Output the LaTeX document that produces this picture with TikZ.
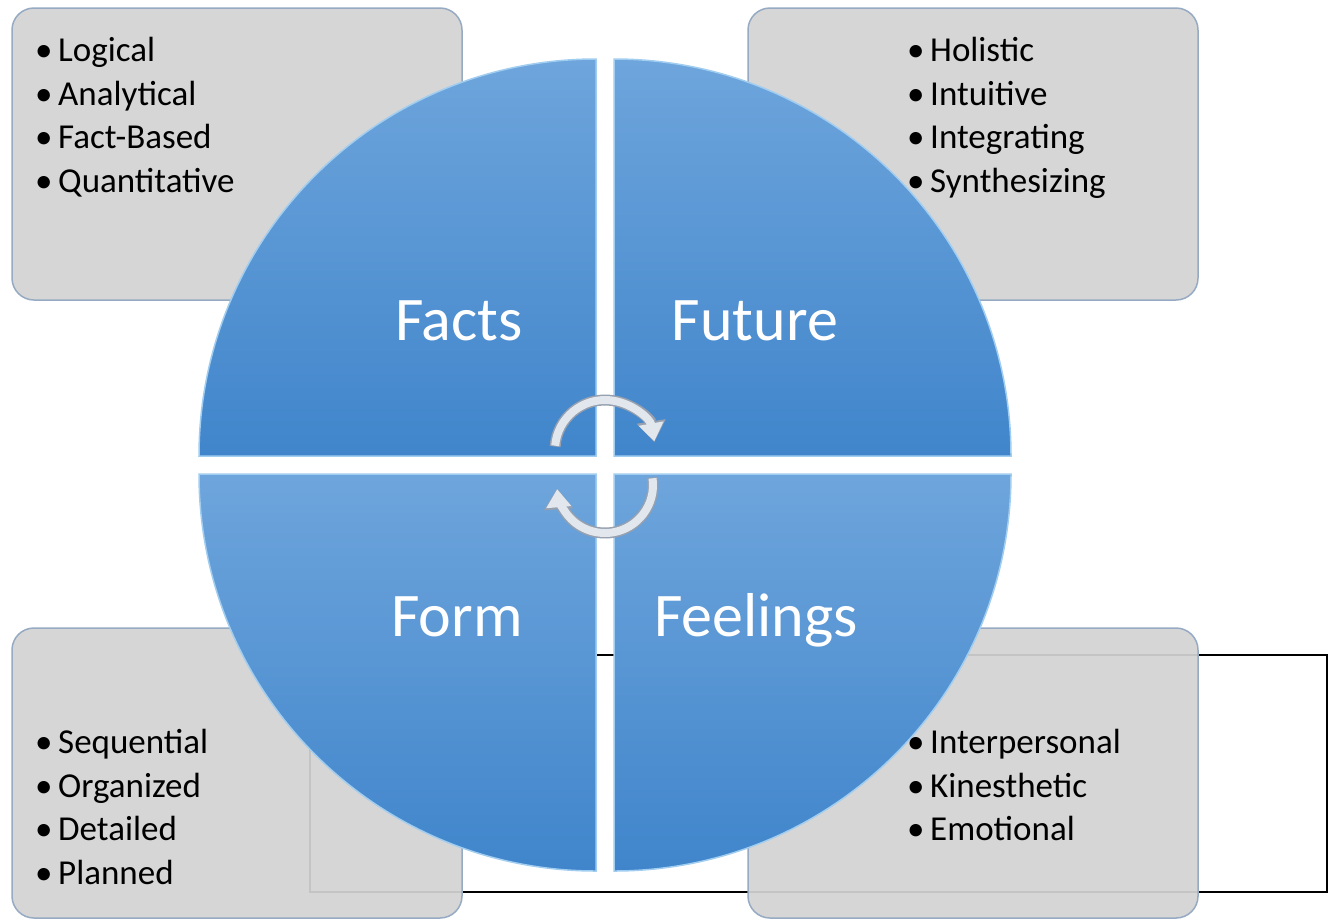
\documentclass[tikz,border=0pt]{standalone}
\usepackage{fontspec}
\setmainfont{Carlito}
\usetikzlibrary{arrows.meta}

\definecolor{boxgray}{RGB}{211,211,211}
\definecolor{boxedge}{RGB}{150,170,195}
\definecolor{quadtop}{RGB}{110,165,220}
\definecolor{quadbot}{RGB}{64,133,203}
\definecolor{quadrim}{RGB}{160,205,240}
\definecolor{cyclegray}{RGB}{226,231,238}
\definecolor{cycleedge}{RGB}{150,160,175}

\begin{document}
\begin{tikzpicture}[x=1pt,y=-1pt,
    infobox/.style={draw=boxedge,line width=1.5pt,fill=boxgray,fill opacity=0.93,rounded corners=22pt},
    quarter/.style={top color=quadtop,bottom color=quadbot,draw=quadrim,line width=1.5pt},
    bigword/.style={text=white,font=\fontsize{62}{66}\selectfont,inner sep=0pt,anchor=base},
    listitem/.style={font=\fontsize{35}{42}\selectfont,inner sep=0pt,anchor=base west},
    cycleshadow/.style={draw=cycleedge,line width=11pt,-{Triangle[length=21pt,width=28pt]}},
    cyclearrow/.style={draw=cyclegray,line width=8pt,-{Triangle[length=18pt,width=24pt]}}]
    \useasboundingbox (0,0) rectangle (1337,922);
    \fill[white] (0,0) rectangle (1337,922);
    % outline behind the lower boxes
    \draw[line width=2pt] (310,655) rectangle (1327,892);
    % grey boxes
    \draw[infobox] (12,8) rectangle (462,300);
    \draw[infobox] (748,8) rectangle (1198,300);
    \draw[infobox] (12,628) rectangle (462,918);
    \draw[infobox] (748,628) rectangle (1198,918);
    % four quarters
    \draw[quarter] (596,456) -- (199,456) arc[start angle=180,end angle=270,radius=397] -- cycle;
    \draw[quarter] (614,456) -- (614,59) arc[start angle=270,end angle=360,radius=397] -- cycle;
    \draw[quarter] (614,474) -- (1011,474) arc[start angle=0,end angle=90,radius=397] -- cycle;
    \draw[quarter] (596,474) -- (596,871) arc[start angle=90,end angle=180,radius=397] -- cycle;
    \node[bigword] (facts) at (459,340) {Facts};
    \node[bigword] (future) at (755,340) {Future};
    \node[bigword] (form) at (457,636) {Form};
    \node[bigword] (feelings) at (756,636) {Feelings};
    % cycle arrows
    \draw[cycleshadow] (605,450) ++(184:50) arc[start angle=184,end angle=351,radius=50];
    \draw[cyclearrow] (605,450) ++(185:50) arc[start angle=185,end angle=350,radius=50];
    \draw[cycleshadow] (605,485) ++(-9:48) arc[start angle=-9,end angle=176,radius=48];
    \draw[cyclearrow] (605,485) ++(-8:48) arc[start angle=-8,end angle=175,radius=48];
    % lists
    \foreach \word [count=\i] in {Logical,Analytical,Fact-Based,Quantitative}
        \node[listitem] (facts\i) at (35,{61.5+43.6*(\i-1)}) {\makebox[23pt][l]{\textbullet}\word};
    \foreach \word [count=\i] in {Holistic,Intuitive,Integrating,Synthesizing}
        \node[listitem] (future\i) at (907,{61.5+43.6*(\i-1)}) {\makebox[23pt][l]{\textbullet}\word};
    \foreach \word [count=\i] in {Sequential,Organized,Detailed,Planned}
        \node[listitem] (form\i) at (35,{753.5+43.6*(\i-1)}) {\makebox[23pt][l]{\textbullet}\word};
    \foreach \word [count=\i] in {Interpersonal,Kinesthetic,Emotional}
        \node[listitem] (feelings\i) at (907,{753.5+43.6*(\i-1)}) {\makebox[23pt][l]{\textbullet}\word};
\end{tikzpicture}
\end{document}
